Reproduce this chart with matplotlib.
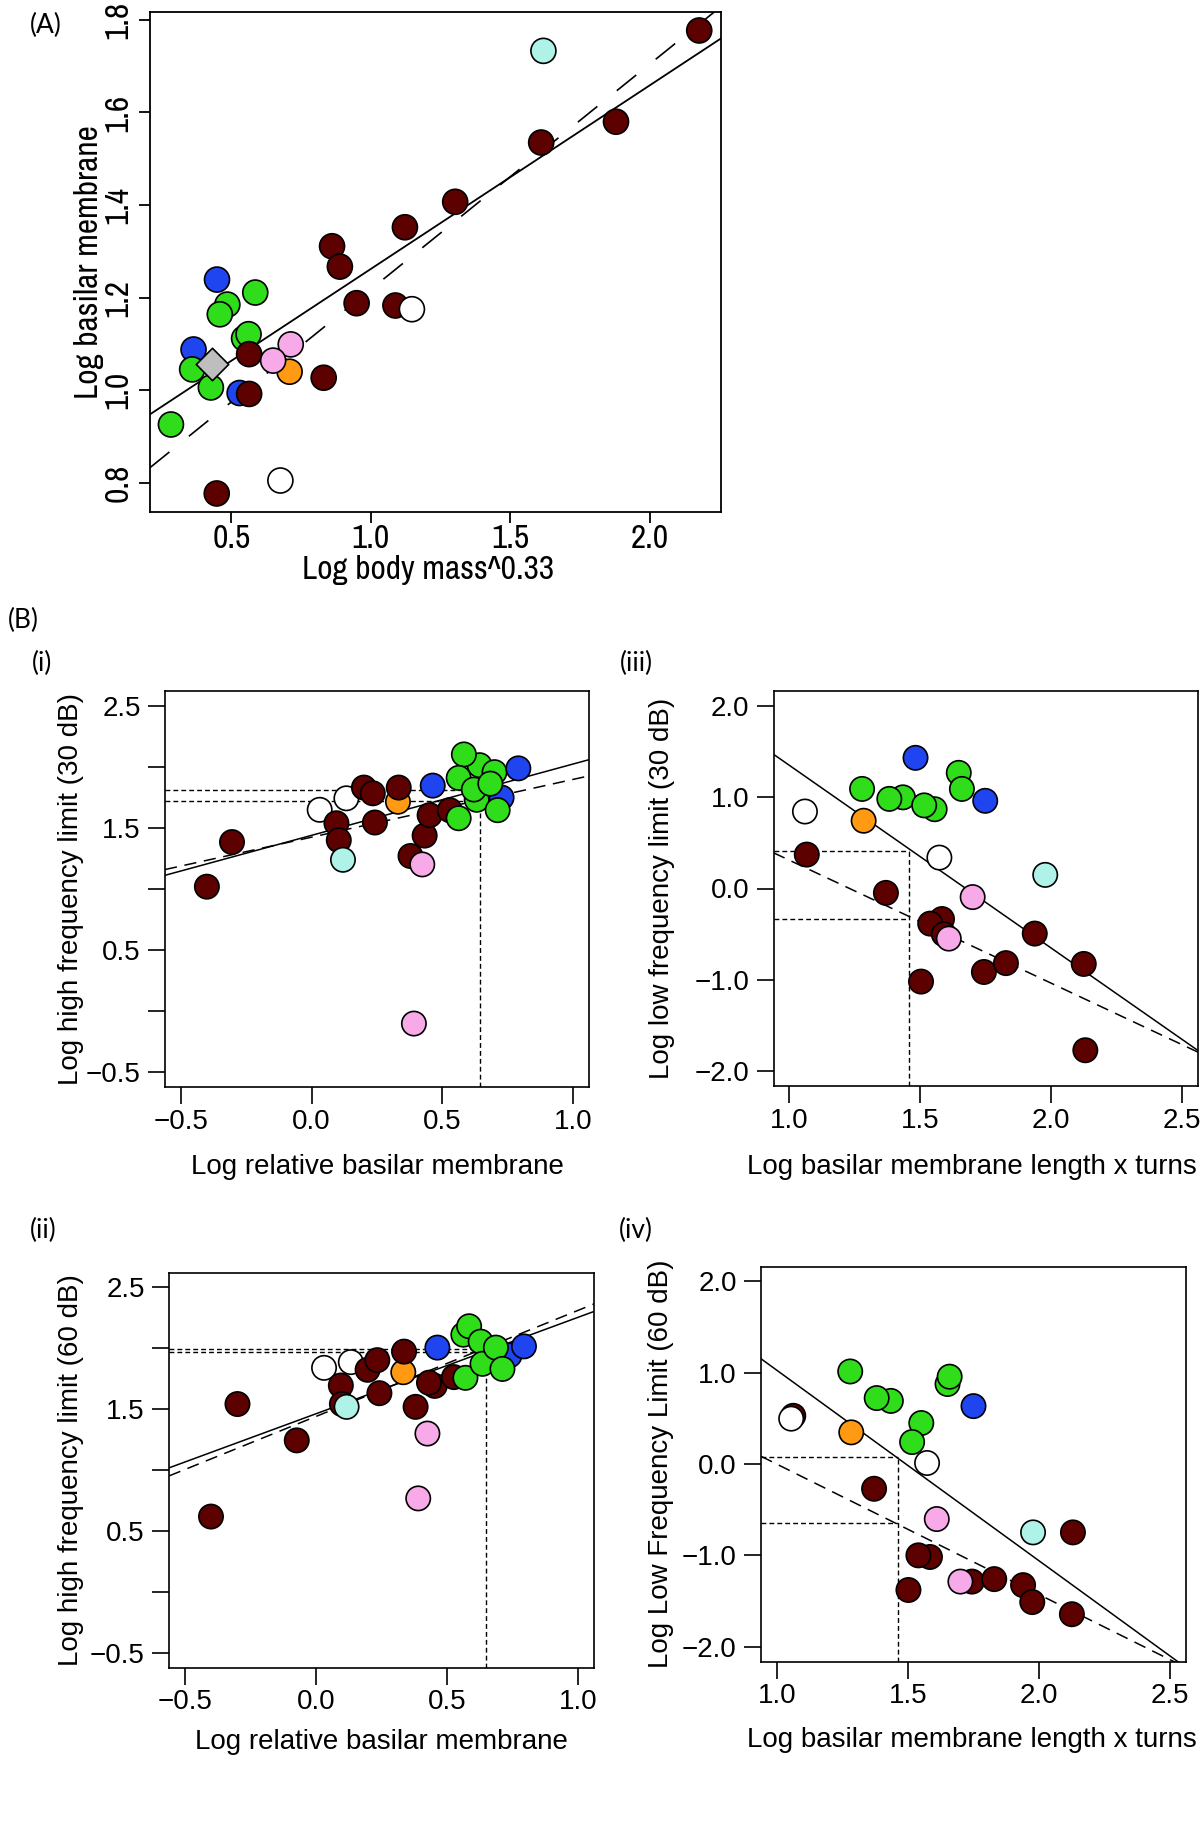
import matplotlib
matplotlib.use('Agg')
import matplotlib.pyplot as plt
from matplotlib import font_manager

plt.rcParams['font.family'] = ['Liberation Sans', 'DejaVu Sans']

W, H = 1200, 1832

# group colours
COLORS = {'dr': '#5C0000', 'g': '#2FDD1A', 'b': '#1F45F0', 'c': '#AEF2E8',
          'p': '#F8AAE8', 'o': '#FF9A12', 'w': '#FFFFFF'}

# ---- (A) basilar membrane vs body mass ----
a_x = [0.284, 0.365, 0.360, 0.427, 0.449, 0.486, 0.459, 0.586, 0.546, 0.562,
       0.530, 0.564, 0.564, 0.713, 0.709, 0.650, 0.831, 0.861, 0.889, 0.949,
       1.088, 1.147, 1.122, 1.302, 1.610, 1.878, 2.176, 1.618, 0.676, 0.448]
a_y = [0.926, 1.088, 1.045, 1.006, 1.239, 1.185, 1.164, 1.211, 1.112, 1.121,
       0.994, 0.992, 1.078, 1.099, 1.040, 1.064, 1.027, 1.311, 1.267, 1.188,
       1.183, 1.175, 1.352, 1.407, 1.535, 1.580, 1.777, 1.733, 0.805, 0.777]
a_grp = ['g', 'b', 'g', 'g', 'b', 'g', 'g', 'g', 'g', 'g',
         'b', 'dr', 'dr', 'p', 'o', 'p', 'dr', 'dr', 'dr', 'dr',
         'dr', 'w', 'dr', 'dr', 'dr', 'dr', 'dr', 'c', 'w', 'dr']
a_fossil_x = [0.430]
a_fossil_y = [1.057]
a_fit_solid = [0.865, 0.397]   # intercept, slope
a_fit_dash = [0.731, 0.487]

# ---- (B i) high frequency limit 30 dB ----
bi_x = [-0.400, -0.304, 0.031, 0.095, 0.104, 0.120, 0.133, 0.200, 0.234, 0.242,
        0.330, 0.333, 0.378, 0.423, 0.432, 0.451, 0.528, 0.463, 0.562, 0.726,
        0.642, 0.582, 0.562, 0.699, 0.631, 0.620, 0.683, 0.711, 0.790, 0.391]
bi_y = [1.019, 1.384, 1.648, 1.538, 1.399, 1.239, 1.742, 1.830, 1.783, 1.544,
        1.714, 1.830, 1.270, 1.201, 1.437, 1.604, 1.645, 1.846, 1.579, 1.748,
        2.013, 2.101, 1.909, 1.956, 1.730, 1.814, 1.862, 1.645, 1.987, -0.101]
bi_grp = ['dr', 'dr', 'w', 'dr', 'dr', 'c', 'w', 'dr', 'dr', 'dr',
          'o', 'dr', 'dr', 'p', 'dr', 'dr', 'dr', 'b', 'g', 'b',
          'g', 'g', 'g', 'g', 'g', 'g', 'g', 'g', 'b', 'p']
bi_fit_solid = [1.439, 0.584]
bi_fit_dash = [1.424, 0.473]
bi_ref_x = 0.644
bi_ref_y = [1.814, 1.720]

# ---- (B ii) high frequency limit 60 dB ----
bii_x = [-0.400, -0.299, -0.073, 0.031, 0.095, 0.099, 0.117, 0.133, 0.197, 0.234,
         0.242, 0.333, 0.336, 0.380, 0.425, 0.390, 0.453, 0.431, 0.526, 0.463,
         0.570, 0.738, 0.562, 0.584, 0.628, 0.635, 0.686, 0.711, 0.793]
bii_y = [0.618, 1.541, 1.243, 1.838, 1.693, 1.541, 1.518, 1.885, 1.822, 1.901,
         1.630, 1.802, 1.971, 1.518, 1.299, 0.767, 1.690, 1.716, 1.762, 2.004,
         1.756, 1.940, 2.110, 2.179, 2.053, 1.871, 2.004, 1.829, 2.014]
bii_grp = ['dr', 'dr', 'dr', 'w', 'dr', 'dr', 'c', 'w', 'dr', 'dr',
           'dr', 'o', 'dr', 'dr', 'p', 'p', 'dr', 'dr', 'dr', 'b',
           'g', 'b', 'g', 'g', 'g', 'g', 'g', 'g', 'b']
bii_fit_solid = [1.461, 0.792]
bii_fit_dash = [1.439, 0.871]
bii_ref_x = 0.647
bii_ref_y = [1.991, 1.967]

# ---- (B iii) low frequency limit 30 dB ----
biii_x = [1.067, 1.060, 1.278, 1.284, 1.434, 1.382, 1.555, 1.515, 1.482, 1.647,
          1.659, 1.748, 1.573, 1.369, 1.583, 1.538, 1.590, 1.609, 1.700, 1.977,
          1.503, 1.743, 1.827, 1.937, 2.124, 2.130]
biii_y = [0.371, 0.842, 1.089, 0.741, 0.997, 0.980, 0.867, 0.909, 1.429, 1.265,
          1.089, 0.959, 0.338, -0.048, -0.334, -0.384, -0.500, -0.548, -0.094, 0.149,
          -1.018, -0.913, -0.816, -0.493, -0.825, -1.769]
biii_grp = ['dr', 'w', 'g', 'o', 'g', 'g', 'g', 'g', 'b', 'g',
            'g', 'b', 'w', 'dr', 'dr', 'dr', 'dr', 'p', 'p', 'c',
            'dr', 'dr', 'dr', 'dr', 'dr', 'dr']
biii_fit_solid = [3.348, -2.0]
biii_fit_dash = [1.656, -1.346]
biii_ref_x = 1.459
biii_ref_y = [0.409, -0.334]

# ---- (B iv) low frequency limit 60 dB ----
biv_x = [1.063, 1.055, 1.284, 1.280, 1.435, 1.381, 1.551, 1.516, 1.651, 1.659,
         1.750, 1.573, 1.371, 1.610, 1.977, 2.129, 1.584, 1.540, 1.502, 1.744,
         1.700, 1.829, 1.939, 1.974, 2.125]
biv_y = [0.527, 0.496, 0.346, 1.012, 0.690, 0.721, 0.448, 0.240, 0.875, 0.955,
         0.633, 0.011, -0.271, -0.602, -0.748, -0.748, -1.017, -0.999, -1.378, -1.286,
         -1.286, -1.259, -1.325, -1.510, -1.643]
biv_grp = ['dr', 'w', 'o', 'g', 'g', 'g', 'g', 'g', 'g', 'g',
           'b', 'w', 'dr', 'p', 'c', 'dr', 'dr', 'dr', 'dr', 'dr',
           'p', 'dr', 'dr', 'dr', 'dr']
biv_fit_solid = [3.111, -2.085]
biv_fit_dash = [1.426, -1.427]
biv_ref_x = 1.461
biv_ref_y = [0.073, -0.642]

# axis settings
rel_xticks = [-0.5, 0.0, 0.5, 1.0]
rel_xlabels = ['\u22120.5', '0.0', '0.5', '1.0']
hf_yticks = [-0.5, 0.0, 0.5, 1.0, 1.5, 2.0, 2.5]
hf_ylabels = ['\u22120.5', '', '0.5', '', '1.5', '', '2.5']
len_xticks = [1.0, 1.5, 2.0, 2.5]
len_xlabels = ['1.0', '1.5', '2.0', '2.5']
lf_yticks = [-2.0, -1.0, 0.0, 1.0, 2.0]
lf_ylabels = ['\u22122.0', '\u22121.0', '0.0', '1.0', '2.0']


# panel A is set in a narrow face; look for one among the installed fonts
def find_narrow():
    best = None
    for f in font_manager.fontManager.ttflist:
        if f.style != 'normal' or f.weight not in (400, 'normal', 'regular'):
            continue
        name = f.name
        if 'Mono' in name or 'Serif' in name:
            continue
        rank = None
        if name == 'Liberation Sans Narrow':
            rank = 0
        elif 'Narrow' in name:
            rank = 1
        elif f.stretch == 'condensed' and 'Sans' in name:
            rank = 2
        elif 'Condensed' in name:
            rank = 3
        elif f.stretch == 'semi-condensed' and 'Sans' in name:
            rank = 4
        if rank is not None and (best is None or rank < best[0]):
            best = (rank, f.fname)
    return best


narrow = find_narrow()
if narrow is not None:
    a_font = font_manager.FontProperties(fname=narrow[1], size=24)
else:
    a_font = font_manager.FontProperties(family='Liberation Sans', size=20)

lab_font = ['Lato', 'DejaVu Sans']


def axes_px(fig, left, top, right, bottom):
    return fig.add_axes([left / W, 1 - bottom / H, (right - left) / W, (bottom - top) / H])


def fig_text(fig, x, y, s, **kw):
    fig.text(x / W, 1 - y / H, s, **kw)


def frame(ax, lw=1.3):
    for sp in ax.spines.values():
        sp.set_linewidth(lw)


fig = plt.figure(figsize=(W / 100, H / 100), dpi=100)

# ---------------- panel A ----------------
axA = axes_px(fig, 150, 11.5, 721, 512)
frame(axA)
xl = (0.209, 2.254)
axA.plot(xl, [a_fit_solid[0] + a_fit_solid[1] * v for v in xl], color='black', lw=1.3, zorder=2)
axA.plot(xl, [a_fit_dash[0] + a_fit_dash[1] * v for v in xl], color='black', lw=1.2,
         linestyle=(0, (15, 15)), zorder=2)
axA.scatter(a_x, a_y, s=18 ** 2, c=[COLORS[g] for g in a_grp], edgecolors='black',
            linewidths=1.2, zorder=3)
axA.scatter(a_fossil_x, a_fossil_y, s=16.5 ** 2, marker='D', c='#BEBEBE', edgecolors='black',
            linewidths=1.2, zorder=4)
axA.set_xlim(xl)
axA.set_ylim(0.737, 1.818)
axA.set_xticks([0.5, 1.0, 1.5, 2.0])
axA.set_xticklabels(['0.5', '1.0', '1.5', '2.0'], fontproperties=a_font)
axA.set_yticks([0.8, 1.0, 1.2, 1.4, 1.6, 1.8])
axA.set_yticklabels(['0.8', '1.0', '1.2', '1.4', '1.6', '1.8'], fontproperties=a_font,
                    rotation=90, va='center')
axA.tick_params(axis='both', direction='out', length=8, width=1.3)
axA.tick_params(axis='x', pad=1)
axA.tick_params(axis='y', pad=4)
fig_text(fig, 428, 570, 'Log body mass^0.33', fontproperties=a_font, ha='center', va='center')
fig_text(fig, 89, 262, 'Log basilar membrane', fontproperties=a_font, ha='center',
         va='center', rotation=90)


# ---------------- panels B ----------------
def panel_b(box, xs, ys, grp, fit_s, fit_d, ref_x, ref_y, xlim, ylim,
            xticks, xlabels, yticks, ylabels, xlab, ylab, xlab_y, ylab_x, xlab_right=None):
    ax = axes_px(fig, *box)
    frame(ax, 1.2)
    ax.plot(xlim, [fit_s[0] + fit_s[1] * v for v in xlim], color='black', lw=1.1, zorder=2)
    ax.plot(xlim, [fit_d[0] + fit_d[1] * v for v in xlim], color='black', lw=1.1,
            linestyle=(0, (8, 5)), zorder=2)
    for ry in ref_y:
        ax.plot([xlim[0], ref_x], [ry, ry], color='black', lw=1.0,
                linestyle=(0, (3.5, 2.2)), zorder=2)
    ax.plot([ref_x, ref_x], [ylim[0], max(ref_y)], color='black', lw=1.0,
            linestyle=(0, (3.5, 2.2)), zorder=2)
    ax.scatter(xs, ys, s=17.5 ** 2, c=[COLORS[g] for g in grp], edgecolors='black',
               linewidths=1.2, zorder=3)
    ax.set_xlim(xlim)
    ax.set_ylim(ylim)
    ax.set_xticks(xticks)
    ax.set_xticklabels(xlabels, size=20)
    ax.set_yticks(yticks)
    ax.set_yticklabels(ylabels, size=20)
    ax.tick_params(axis='both', direction='out', length=12.5, width=1.2)
    ax.tick_params(axis='x', pad=3)
    ax.tick_params(axis='y', pad=5)
    cy = (box[1] + box[3]) / 2
    if xlab_right is None:
        fig_text(fig, (box[0] + box[2]) / 2, xlab_y, xlab, size=20, ha='center', va='center')
    else:
        fig_text(fig, xlab_right, xlab_y, xlab, size=20, ha='right', va='center')
    fig_text(fig, ylab_x, cy, ylab, size=20, ha='center', va='center', rotation=90)
    return ax


rel_xlim = (-0.56, 1.06)
hf_ylim = (-0.62, 2.62)
len_xlim = (0.94, 2.56)
lf_ylim = (-2.16, 2.16)

panel_b((165, 691, 589, 1087), bi_x, bi_y, bi_grp, bi_fit_solid, bi_fit_dash,
        bi_ref_x, bi_ref_y, rel_xlim, hf_ylim, rel_xticks, rel_xlabels,
        hf_yticks, hf_ylabels, 'Log relative basilar membrane',
        'Log high frequency limit (30 dB)', 1167, 71)
panel_b((773.5, 691, 1198, 1086), biii_x, biii_y, biii_grp, biii_fit_solid, biii_fit_dash,
        biii_ref_x, biii_ref_y, len_xlim, lf_ylim, len_xticks, len_xlabels,
        lf_yticks, lf_ylabels, 'Log basilar membrane length x turns',
        'Log low frequency limit (30 dB)', 1167, 662, xlab_right=1197)
panel_b((169, 1272.5, 594, 1667.5), bii_x, bii_y, bii_grp, bii_fit_solid, bii_fit_dash,
        bii_ref_x, bii_ref_y, rel_xlim, hf_ylim, rel_xticks, rel_xlabels,
        hf_yticks, hf_ylabels, 'Log relative basilar membrane',
        'Log high frequency limit (60 dB)', 1742, 71)
panel_b((761, 1266.5, 1186, 1661.5), biv_x, biv_y, biv_grp, biv_fit_solid, biv_fit_dash,
        biv_ref_x, biv_ref_y, len_xlim, lf_ylim, len_xticks, len_xlabels,
        lf_yticks, lf_ylabels, 'Log basilar membrane length x turns',
        'Log Low Frequency Limit (60 dB)', 1740, 661, xlab_right=1197)

# panel tags
for x, y, s in [(46, 25, '(A)'), (23, 620, '(B)'), (42, 663, '(i)'),
                (636, 663, '(iii)'), (43, 1230, '(ii)'), (636, 1230, '(iv)')]:
    fig_text(fig, x, y, s, family=lab_font, size=19, ha='center', va='center')

fig.savefig('out.png', dpi=100)
